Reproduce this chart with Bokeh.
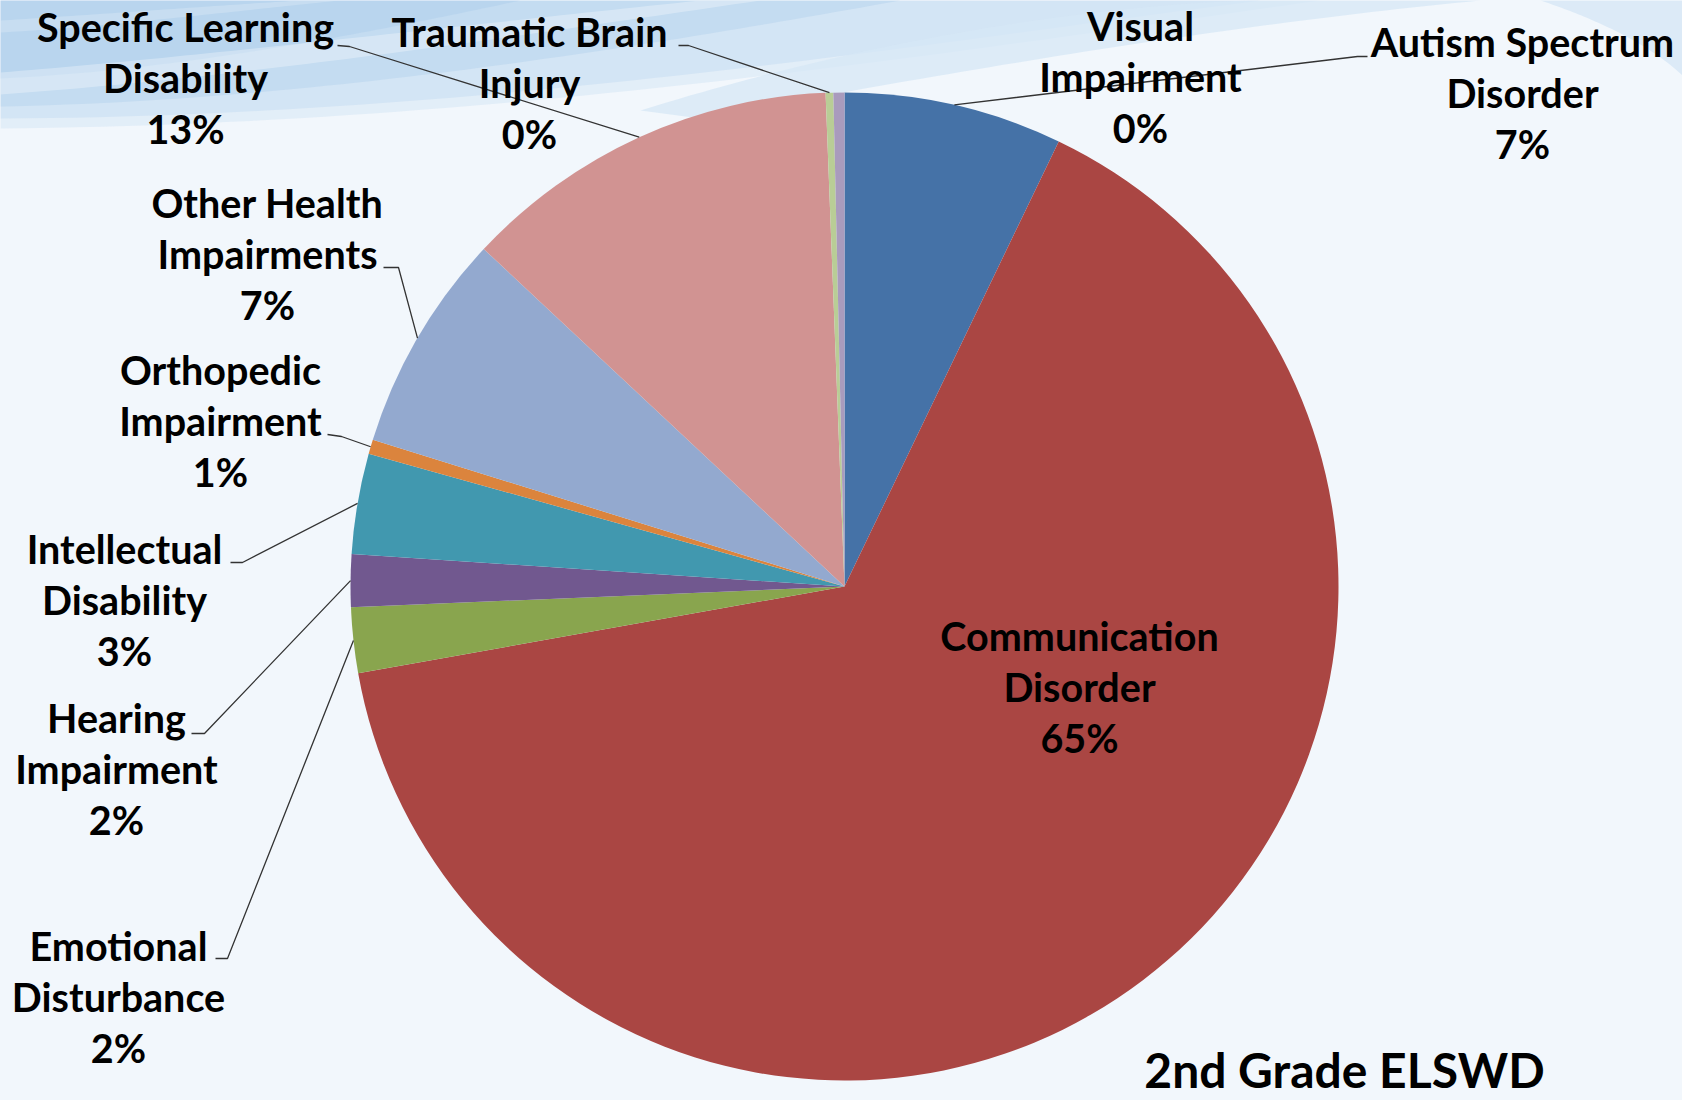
import numpy as np
from bokeh.plotting import figure
from bokeh.models import Range1d, ColumnDataSource
from bokeh.core.properties import value
from bokeh.embed import file_html
from bokeh.resources import INLINE

# ---------------- data ----------------
categories = [
    "Autism Spectrum\nDisorder",
    "Communication\nDisorder",
    "Emotional\nDisturbance",
    "Hearing\nImpairment",
    "Intellectual\nDisability",
    "Orthopedic\nImpairment",
    "Other Health\nImpairments",
    "Specific Learning\nDisability",
    "Traumatic Brain\nInjury",
    "Visual\nImpairment",
]
shares = [7.14, 65.05, 2.14, 1.72, 3.28, 0.47, 7.17, 12.42, 0.25, 0.36]
pct_labels = ["7%", "65%", "2%", "2%", "3%", "1%", "7%", "13%", "0%", "0%"]
title_text = "2nd Grade ELSWD"

# ---------------- styles / layout ----------------
colors = ["#4572A7", "#AA4643", "#89A54E", "#71588F", "#4198AF",
          "#DB843D", "#93A9CF", "#D19392", "#B9CD96", "#A99BBD"]
W, H = 1682, 1100
CX, CY, R = 844, 586, 494          # pie centre / radius in page pixels
LINE_H = 51
FONT = "Lato"
FS = 39.5
TITLE_FS = 48
BASE_SHIFT = 0.37                   # em, empirical baseline correction
# label centre x, first-line baseline y (page pixels, y downward)
label_pos = [(1522, 56), (1079, 650), (118, 960), (116, 732), (124, 563),
             (220, 384), (267, 217), (185, 41), (529, 46), (1140, 40)]
# leader: (tick start at text, elbow) ; None = no leader
leaders = [((1367, 56), (1357, 56)), None, ((215, 958), (227, 958)),
           ((191, 733), (204, 733)), ((230, 562), (242, 562)),
           ((327, 434), (341, 436)), ((383, 267), (398, 267)),
           ((337, 45), (349, 46)), ((678, 45), (688, 45)), None]

BG = "#F2F7FC"


def Y(yp):
    """page y (downward) -> data y (upward)"""
    return H - np.asarray(yp, dtype=float)


p = figure(width=W, height=H, output_backend="svg",
           toolbar_location=None, x_range=Range1d(0, W),
           y_range=Range1d(0, H), min_border=0)
p.axis.visible = False
p.grid.visible = False
p.outline_line_color = None
p.background_fill_color = BG
p.border_fill_color = BG


# ---------------- background swooshes (decoration) ----------------
def bez(p0, p1, p2, p3, n=60):
    t = np.linspace(0, 1, n)[:, None]
    pts = ((1 - t) ** 3) * np.array(p0) + 3 * ((1 - t) ** 2) * t * np.array(p1) \
        + 3 * (1 - t) * t ** 2 * np.array(p2) + t ** 3 * np.array(p3)
    return pts[:, 0], pts[:, 1]


def cap_patch(x_end, c1, c2, y_left, color, alpha):
    bx, by = bez((x_end, 0), c1, c2, (0, y_left))
    xs = np.concatenate([[0, x_end], bx])
    ys = np.concatenate([[0, 0], by])
    p.patch(xs, Y(ys), fill_color=color, fill_alpha=alpha, line_color=None)


# soft layered blue band top-left
cap_patch(1320, (960, 50), (500, 124), 128, "#DCEAF7", 0.7)
cap_patch(1260, (930, 42), (480, 116), 118, "#CFE2F4", 0.8)
cap_patch(900, (650, 45), (320, 100), 106, "#BFD8EF", 0.75)
cap_patch(520, (380, 30), (180, 70), 78, "#B3D0EC", 0.6)
# white streaks
ux, uy = bez((0, 72), (200, 56), (450, 26), (700, 0))
lx, ly = bez((760, 0), (500, 38), (250, 76), (0, 94))
p.patch(np.concatenate([ux, lx]), Y(np.concatenate([uy, ly])),
        fill_color="#FFFFFF", fill_alpha=0.3, line_color=None)
ux, uy = bez((0, 20), (100, 14), (200, 6), (300, 0))
lx, ly = bez((340, 0), (220, 12), (110, 26), (0, 32))
p.patch(np.concatenate([ux, lx]), Y(np.concatenate([uy, ly])),
        fill_color="#FFFFFF", fill_alpha=0.2, line_color=None)
# arc band upper right (tapered at its left end)
ux, uy = bez((640, 110), (880, 35), (1100, 5), (1250, 0))
lx, ly = bez((1480, 0), (1250, 22), (1000, 62), (700, 118))
p.patch(np.concatenate([ux, lx]), Y(np.concatenate([uy, ly])),
        fill_color="#D6E7F6", fill_alpha=0.75, line_color=None)
# far right corner tint
rx, ry = bez((1540, 0), (1600, 20), (1650, 45), (1682, 75))
p.patch(np.concatenate([rx, [1682]]), Y(np.concatenate([ry, [0]])),
        fill_color="#DCEAF7", line_color=None)

# ---------------- pie ----------------
vals = np.array(shares, dtype=float)
frac = vals / vals.sum()
cum = np.cumsum(frac)
prev = cum - frac
start = np.pi / 2 - 2 * np.pi * prev
end = np.pi / 2 - 2 * np.pi * cum
mid = np.pi / 2 - 2 * np.pi * (prev + frac / 2)

src = ColumnDataSource(dict(start=start, end=end, color=colors, name=categories,
                            value=vals))
p.wedge(x=CX, y=float(H - CY), radius=R, start_angle="start", end_angle="end",
        direction="clock", fill_color="color", line_color=None, source=src)

# ---------------- leader lines ----------------
for i, ld in enumerate(leaders):
    if ld is None:
        continue
    (x0, y0), (x1, y1) = ld
    ex = CX + R * np.cos(mid[i])
    ey = (H - CY) + R * np.sin(mid[i])
    p.line([x0, x1, ex], [float(Y(y0)), float(Y(y1)), ey],
           line_color="#333333", line_width=1.3)

# ---------------- labels ----------------
tx, ty, tt = [], [], []
for i, name in enumerate(categories):
    lines = name.split("\n") + [pct_labels[i]]
    cx, b0 = label_pos[i]
    for k, ln in enumerate(lines):
        tx.append(cx)
        ty.append(float(Y(b0 + k * LINE_H - BASE_SHIFT * FS)))
        tt.append(ln)
p.text(x=tx, y=ty, text=tt, text_font=value(FONT), text_font_style="bold",
       text_font_size=f"{FS}px", text_align="center",
       text_baseline="alphabetic", text_color="#000000")

p.text(x=[1344], y=[float(Y(1087 - BASE_SHIFT * TITLE_FS))], text=[title_text],
       text_font=value(FONT), text_font_style="bold",
       text_font_size=f"{TITLE_FS}px", text_align="center",
       text_baseline="alphabetic", text_color="#000000")

tmpl = """{% block postamble %}<style>html, body { background: #F2F7FC; }</style>{% endblock %}"""
open("out.html", "w").write(file_html(p, INLINE, template=tmpl))
